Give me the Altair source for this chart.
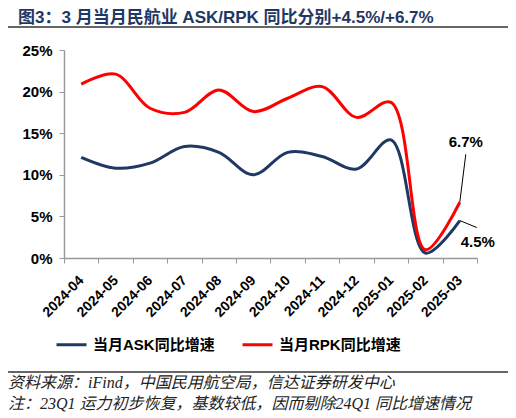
import altair as alt
import pandas as pd

months = ["2024-04", "2024-05", "2024-06", "2024-07", "2024-08", "2024-09",
          "2024-10", "2024-11", "2024-12", "2025-01", "2025-02", "2025-03"]
ask = [12.1, 10.8, 11.4, 13.4, 12.7, 10.0, 12.7, 12.2, 10.7, 14.2, 0.6, 4.5]
rpk = [20.9, 22.1, 18.0, 17.5, 20.2, 17.6, 19.2, 20.6, 16.9, 18.7, 1.0, 6.7]
series = ["当月ASK同比增速", "当月RPK同比增速"]
colors = ["#1F3864", "#FF0000"]

title_text = "图3：3 月当月民航业 ASK/RPK 同比分别+4.5%/+6.7%"
source_text = "资料来源：iFind，中国民用航空局，信达证券研发中心"
note_text = "注：23Q1 运力初步恢复，基数较低，因而剔除24Q1 同比增速情况"

FONT = "Liberation Sans, Noto Sans CJK SC"
CJK_ITALIC = "Liberation Serif, Noto Sans CJK SC"

df = pd.DataFrame({
    "month": months * 2,
    "value": ask + rpk,
    "series": [series[0]] * len(months) + [series[1]] * len(months),
})

last = pd.DataFrame({
    "month": [months[-1], months[-1]],
    "value": [ask[-1], rpk[-1]],
    "label": [f"{ask[-1]}%", f"{rpk[-1]}%"],
})

x_enc = alt.X(
    "month:O",
    sort=months,
    title=None,
    scale=alt.Scale(type="band", paddingInner=0, paddingOuter=0),
    axis=alt.Axis(
        labelAngle=-45, labelAlign="right", labelBaseline="middle",
        labelFont=FONT, labelFontSize=14, labelFontWeight="bold", labelColor="#000",
        labelPadding=15, tickBand="extent", tickSize=5, tickColor="#999",
        domainColor="#999", domainWidth=1.5,
    ),
)
y_enc = alt.Y(
    "value:Q",
    title=None,
    scale=alt.Scale(domain=[0, 25], nice=False),
    axis=alt.Axis(
        values=[0, 5, 10, 15, 20, 25], labelExpr="datum.value + '%'",
        labelFont=FONT, labelFontSize=15, labelFontWeight="bold", labelColor="#000",
        labelPadding=7, tickSize=5, tickColor="#999", domainColor="#999",
        domainWidth=1.5, grid=False,
    ),
)

lines = alt.Chart(df).mark_line(interpolate="catmull-rom", strokeWidth=3).encode(
    x=x_enc,
    y=y_enc,
    color=alt.Color(
        "series:N",
        scale=alt.Scale(domain=series, range=colors),
        legend=alt.Legend(
            title=None, orient="none", legendX=-9, legendY=278, direction="horizontal",
            symbolType="stroke", symbolSize=900, symbolStrokeWidth=3,
            labelFont=FONT, labelFontSize=15, labelFontWeight="bold", labelColor="#000",
            columnPadding=21, labelOffset=5,
        ),
    ),
)

base_last = alt.Chart(last).encode(
    x=alt.X("month:O", sort=months),
    y=alt.Y("value:Q"),
    x2=alt.X2("month:O"),
    y2=alt.Y2("value:Q"),
)
ask_rule = base_last.transform_filter(alt.datum.label == f"{ask[-1]}%").mark_rule(
    color="#000", strokeWidth=1, x2Offset=17, y2Offset=7
)
rpk_rule = base_last.transform_filter(alt.datum.label == f"{rpk[-1]}%").mark_rule(
    color="#000", strokeWidth=1, x2Offset=6, y2Offset=-48
)
text_base = alt.Chart(last).encode(
    x=alt.X("month:O", sort=months), y=alt.Y("value:Q"), text="label:N"
)
ask_text = text_base.transform_filter(alt.datum.label == f"{ask[-1]}%").mark_text(
    font=FONT, fontSize=15, fontWeight="bold", color="#000", dx=18, dy=21
)
rpk_text = text_base.transform_filter(alt.datum.label == f"{rpk[-1]}%").mark_text(
    font=FONT, fontSize=15, fontWeight="bold", color="#000", dx=6, dy=-60
)

main = alt.layer(lines, ask_rule, rpk_rule, ask_text, rpk_text)

# title, separators and footer drawn around the plot
title = alt.Chart(pd.DataFrame({"t": [title_text]})).mark_text(
    font=FONT, fontSize=17, fontWeight="bold", color="#1F3864",
    align="left", baseline="middle",
).encode(x=alt.value(-46), y=alt.value(-32), text="t:N")

sep = pd.DataFrame({
    "pos": ["top", "top", "bottom", "bottom"],
    "sx": [0, 1, 0, 1],
    "sy": [0, 0, 1, 1],
})
separators = alt.Chart(sep).mark_line(color="#666", strokeWidth=2, clip=False).encode(
    x=alt.X("sx:Q", axis=None, scale=alt.Scale(domain=[0, 1], range=[-58, 446])),
    y=alt.Y("sy:Q", axis=None, scale=alt.Scale(domain=[0, 1], range=[-23, 322])),
    detail="pos:N",
)

source = alt.Chart(pd.DataFrame({"t": [source_text]})).mark_text(
    font=CJK_ITALIC, fontSize=16, fontStyle="italic", color="#222",
    align="left", baseline="middle",
).encode(x=alt.value(-56), y=alt.value(333), text="t:N")
note = alt.Chart(pd.DataFrame({"t": [note_text]})).mark_text(
    font=CJK_ITALIC, fontSize=16, fontStyle="italic", color="#222",
    align="left", baseline="middle",
).encode(x=alt.value(-56), y=alt.value(354), text="t:N")

chart = alt.layer(main, separators, title, source, note).resolve_scale(
    x="independent", y="independent"
).properties(
    width=413,
    height=208,
    autosize=alt.AutoSizeParams(type="none"),
    padding={"left": 56, "top": 42, "right": 31, "bottom": 160},
).configure_view(stroke=None)

chart.save("out.html", embed_options={"renderer": "svg", "actions": False})
